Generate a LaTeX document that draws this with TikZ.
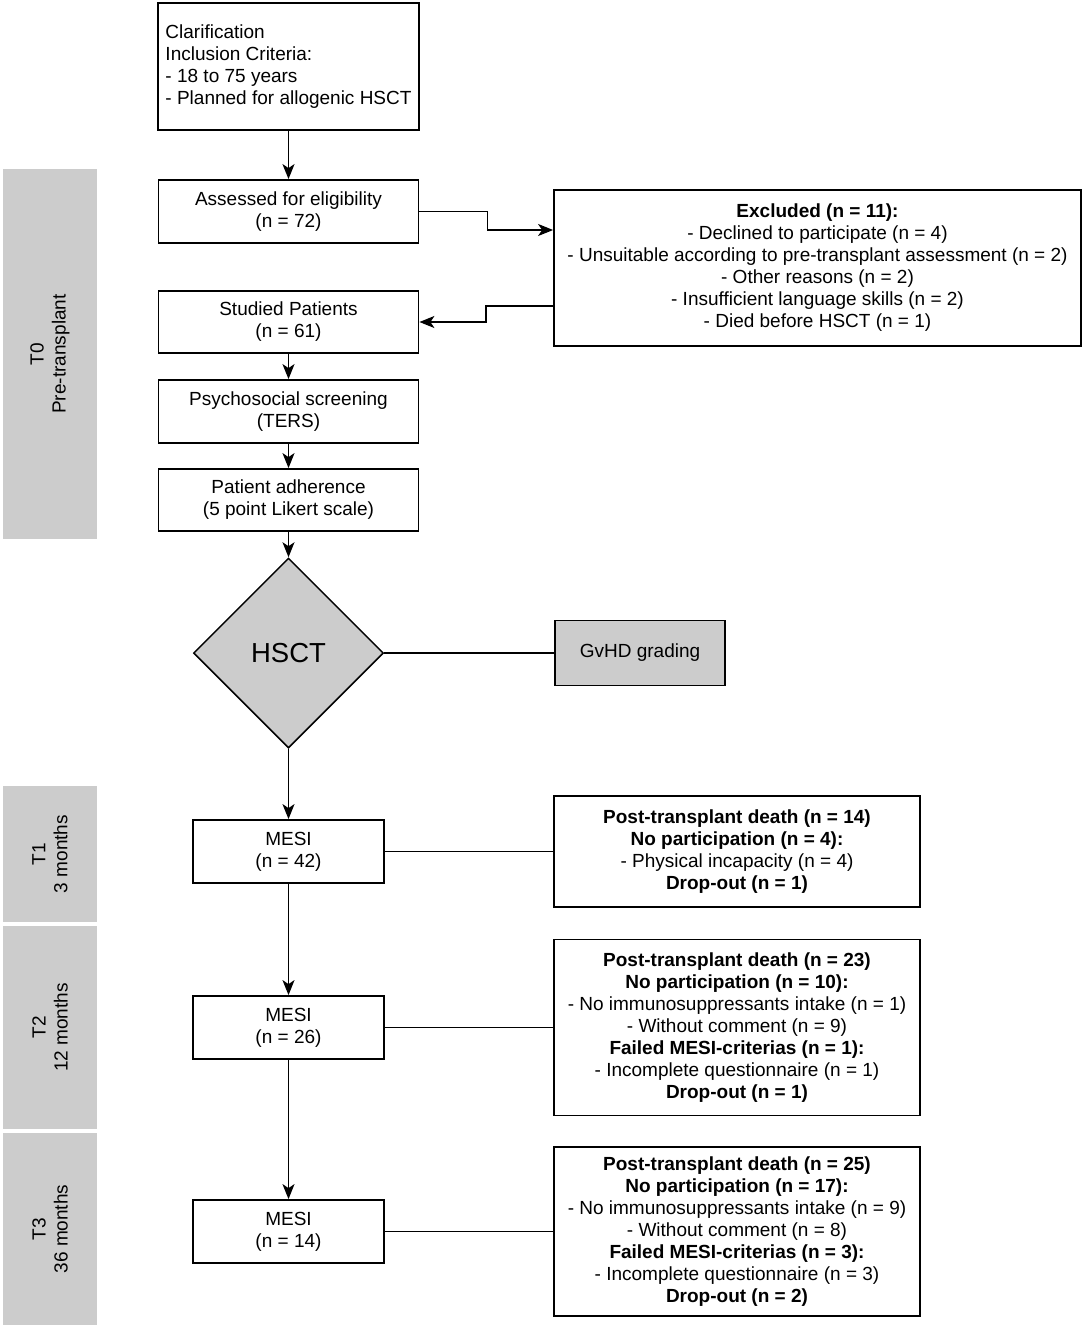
\documentclass[tikz,border=0pt]{standalone}
\usepackage{fontspec}
\setmainfont{Liberation Sans}
\usetikzlibrary{arrows.meta,shapes,positioning}
\tikzset{arrows={-{Stealth[length=15pt,width=12pt,inset=4pt]}}}
\definecolor{barGray}{RGB}{204,204,204}
\tikzset{
  box/.style={draw, line width=1.8pt, font=\fontsize{19}{22}\selectfont, align=center,
              minimum width=260pt, minimum height=63pt, inner sep=6pt},
  mesibox/.style={box, minimum width=191pt},
  sidebox/.style={box, minimum width=0pt},
  phase/.style={fill=barGray, rotate=90, font=\fontsize{19}{22}\selectfont, align=center,
                minimum height=94pt, inner sep=0pt},
  plain/.style={-, line width=1.4pt}
}

\begin{document}
\begin{tikzpicture}[x=1pt, y=-1pt, line width=1.4pt]
    \useasboundingbox (0,0) rectangle (1084,1328);

    % time phases
    \node[phase, minimum width=370pt] (P0) at (50,354) {T0\\Pre-transplant};
    \node[phase, minimum width=136pt] (P1) at (50,854) {T1\\3 months};
    \node[phase, minimum width=203pt] (P2) at (50,1027.5) {T2\\12 months};
    \node[phase, minimum width=192pt] (P3) at (50,1229) {T3\\36 months};

    % main column
    \node[box, align=left, minimum width=261pt, minimum height=127pt] (clar) at (288.5,66.5)
        {Clarification\\Inclusion Criteria:\\- 18 to 75 years\\- Planned for allogenic HSCT};
    \node[box] (assessed) [below of = clar, node distance = 145pt] {Assessed for eligibility\\(n = 72)};
    \node[box, minimum height=62pt] (studied) [below of = assessed, node distance = 110.5pt] {Studied Patients\\(n = 61)};
    \node[box] (screen) [below of = studied, node distance = 89.5pt] {Psychosocial screening\\(TERS)};
    \node[box, minimum height=62pt] (adher) [below of = screen, node distance = 88.5pt] {Patient adherence\\(5 point Likert scale)};
    \node[draw, diamond, fill=barGray, line width=1.5pt, minimum width=190pt, minimum height=190pt,
          inner sep=0pt, font=\fontsize{27.5}{30}\selectfont] (hsct) [below of = adher, node distance = 153pt] {HSCT};
    \node[mesibox] (mesiA) [below of = hsct, node distance = 198.5pt] {MESI\\(n = 42)};
    \node[mesibox] (mesiB) [below of = mesiA, node distance = 176pt] {MESI\\(n = 26)};
    \node[mesibox] (mesiC) [below of = mesiB, node distance = 204pt] {MESI\\(n = 14)};

    % right column
    \node[sidebox, minimum width=527pt, minimum height=156pt] (excl) at (817.5,268)
        {\textbf{Excluded (n = 11):}\\- Declined to participate (n = 4)\\- Unsuitable according to pre-transplant assessment (n = 2)\\- Other reasons (n = 2)\\- Insufficient language skills (n = 2)\\- Died before HSCT (n = 1)};
    \node[sidebox, fill=barGray, minimum width=170pt, minimum height=65pt] (gvhd) [right of = hsct, node distance = 351.5pt] {GvHD grading};
    \node[sidebox, minimum width=366pt, minimum height=111pt] (postA) [right of = mesiA, node distance = 448.5pt]
        {\textbf{Post-transplant death (n = 14)}\\\textbf{No participation (n = 4):}\\- Physical incapacity (n = 4)\\\textbf{Drop-out (n = 1)}};
    \node[sidebox, minimum width=366pt, minimum height=176pt] (postB) [right of = mesiB, node distance = 448.5pt]
        {\textbf{Post-transplant death (n = 23)}\\\textbf{No participation (n = 10):}\\- No immunosuppressants intake (n = 1)\\- Without comment (n = 9)\\\textbf{Failed MESI-criterias (n = 1):}\\- Incomplete questionnaire (n = 1)\\\textbf{Drop-out (n = 1)}};
    \node[sidebox, minimum width=366pt, minimum height=169pt] (postC) [right of = mesiC, node distance = 448.5pt]
        {\textbf{Post-transplant death (n = 25)}\\\textbf{No participation (n = 17):}\\- No immunosuppressants intake (n = 9)\\- Without comment (n = 8)\\\textbf{Failed MESI-criterias (n = 3):}\\- Incomplete questionnaire (n = 3)\\\textbf{Drop-out (n = 2)}};

    % connectors
    \draw (clar) -- (assessed);
    \draw (assessed.east) -- ++(68,0) |- ([yshift=38pt]excl.west);
    \draw ([yshift=-38pt]excl.west) -- ++(-67,0) |- (studied.east);
    \draw (studied) -- (screen);
    \draw (screen) -- (adher);
    \draw (adher) -- (hsct);
    \draw (hsct) -- (mesiA);
    \draw (mesiA) -- (mesiB);
    \draw (mesiB) -- (mesiC);
    \draw[plain] (hsct.east) -- (gvhd.west);
    \draw[plain] (mesiA.east) -- (postA.west);
    \draw[plain] (mesiB.east) -- (postB.west);
    \draw[plain] (mesiC.east) -- (postC.west);
\end{tikzpicture}
\end{document}
